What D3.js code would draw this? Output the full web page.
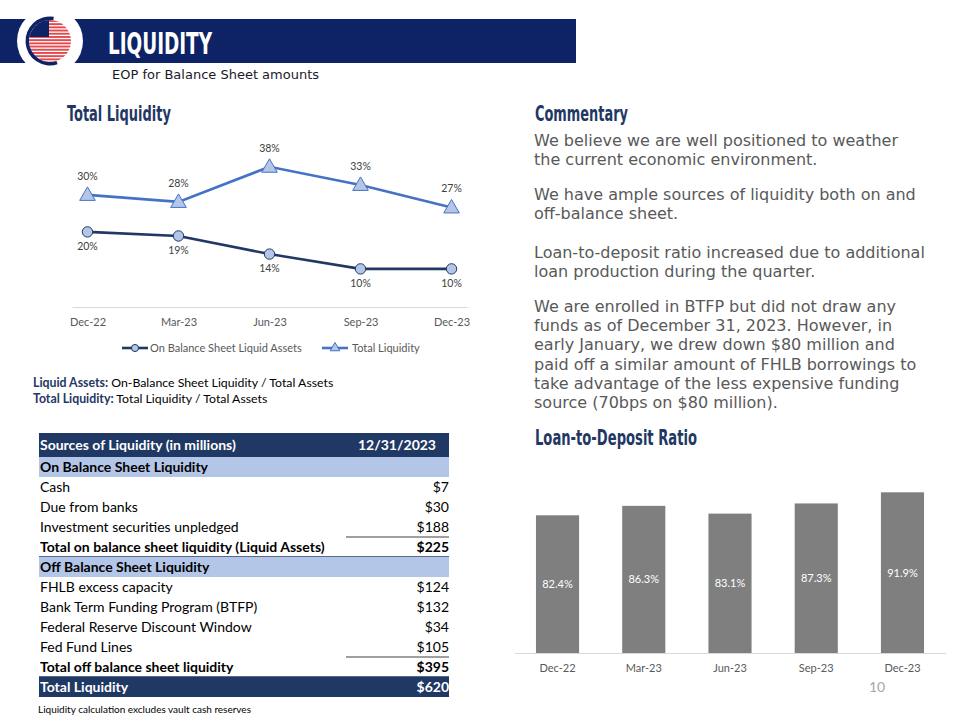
<!DOCTYPE html>
<html><head><meta charset="utf-8">
<script src="https://cdn.jsdelivr.net/npm/d3@7"></script>
<style>body{margin:0;background:#fff} svg{display:block}</style>
</head><body><svg id="c" width="960" height="720"></svg>
<script>
// ---------- data ----------
const quarters = ["Dec-22", "Mar-23", "Jun-23", "Sep-23", "Dec-23"];
const onBalance = [20.3, 19.2, 14.3, 10.3, 10.3];
const totalLiquidity = [30.3, 28.4, 37.9, 33.0, 26.9];
const seriesNames = ["On Balance Sheet Liquid Assets", "Total Liquidity"];
const loanToDeposit = [82.4, 86.3, 83.1, 87.3, 91.9];

const tableLabels = ["Sources of Liquidity (in millions)", "On Balance Sheet Liquidity", "Cash", "Due from banks",
  "Investment securities unpledged", "Total on balance sheet liquidity (Liquid Assets)", "Off Balance Sheet Liquidity",
  "FHLB excess capacity", "Bank Term Funding Program (BTFP)", "Federal Reserve Discount Window", "Fed Fund Lines",
  "Total off balance sheet liquidity", "Total Liquidity"];
const tableValues = ["12/31/2023", "", "$7", "$30", "$188", "$225", "", "$124", "$132", "$34", "$105", "$395", "$620"];
const tableKinds = ["head", "sect", "item", "item", "under", "total", "sect", "item", "item", "item", "under", "total", "grand"];

const commentary = [
  ["We believe we are well positioned to weather", "the current economic environment."],
  ["We have ample sources of liquidity both on and", "off-balance sheet."],
  ["Loan-to-deposit ratio increased due to additional", "loan production during the quarter."],
  ["We are enrolled in BTFP but did not draw any", "funds as of December 31, 2023. However, in",
   "early January, we drew down $80 million and", "paid off a similar amount of FHLB borrowings to",
   "take advantage of the less expensive funding", "source (70bps on $80 million)."]
];

// ---------- styles ----------
const NAVY = "#0d2366", TNAVY = "#1f3864", LBLUE = "#b4c6e7", BLUE = "#4472c4";
const CAL = "Lato, 'Open Sans', sans-serif";
const COND = "'DejaVu Sans Condensed', 'Liberation Sans Narrow', 'DejaVu Sans', sans-serif";
const svg = d3.select("#c");

// ---------- header ----------
svg.append("rect").attr("x", 0).attr("y", 19).attr("width", 576).attr("height", 44).attr("fill", NAVY);
const logo = svg.append("g").attr("transform", "translate(50,41)");
logo.append("circle").attr("r", 33).attr("fill", "#fff");
svg.append("defs").append("clipPath").attr("id", "globe").append("circle").attr("r", 21);
const globe = logo.append("g").attr("clip-path", "url(#globe)");
globe.append("rect").attr("x", -22).attr("y", -22).attr("width", 44).attr("height", 44).attr("fill", "#fff");
d3.range(-21, 22, 3.2).forEach(s => globe.append("rect").attr("x", -22).attr("y", s).attr("width", 44).attr("height", 1.9).attr("fill", "#e5484d"));
globe.append("rect").attr("x", -22).attr("y", -22).attr("width", 21).attr("height", 18).attr("fill", NAVY);
logo.append("path").attr("d", d3.arc()({ innerRadius: 21, outerRadius: 24.5, startAngle: Math.PI * 0.9, endAngle: Math.PI * 2.05 }))
  .attr("fill", NAVY);

svg.append("text").attr("x", 108).attr("y", 54).attr("fill", "#fff").attr("font-family", COND)
  .attr("font-weight", "bold").attr("font-size", 31).attr("textLength", 104).attr("lengthAdjust", "spacingAndGlyphs").text("LIQUIDITY");
svg.append("text").attr("x", 112).attr("y", 79).attr("fill", "#1a1a2a").attr("font-family", "'DejaVu Sans', Verdana, sans-serif")
  .attr("font-size", 13).text("EOP for Balance Sheet amounts");

function title(x, y, w, t) {
  svg.append("text").attr("x", x).attr("y", y).attr("fill", TNAVY).attr("font-family", COND).attr("font-weight", "bold")
    .attr("font-size", 22).attr("textLength", w).attr("lengthAdjust", "spacingAndGlyphs").text(t);
}
title(67, 121, 104, "Total Liquidity");
title(535, 121, 93, "Commentary");
title(535, 445, 162, "Loan-to-Deposit Ratio");

// ---------- line chart ----------
const x = d3.scalePoint().domain(quarters).range([72, 467]).padding(0.17);
const y = d3.scaleLinear().domain([0, 45]).range([307, 307 - 45 * 3.7]);
const lc = svg.append("g");
const ax = lc.append("g").attr("transform", "translate(0,307)").call(d3.axisBottom(x).tickSize(0).tickPadding(11));
ax.select(".domain").attr("stroke", "#d9d9d9").attr("stroke-width", 1);
ax.selectAll("text").attr("font-family", CAL).attr("font-size", 11).attr("fill", "#595959");

const series = [
  { name: seriesNames[0], values: onBalance, color: TNAVY, marker: "circle", labelDy: 18 },
  { name: seriesNames[1], values: totalLiquidity, color: BLUE, marker: "triangle", labelDy: -15 }
];
const line = d3.line().x((d, i) => x(quarters[i])).y(d => y(d));
series.forEach(s => {
  lc.append("path").attr("d", line(s.values)).attr("fill", "none").attr("stroke", s.color).attr("stroke-width", 2.6);
  const sym = d3.symbol().type(s.marker === "circle" ? d3.symbolCircle : d3.symbolTriangle).size(s.marker === "circle" ? 85 : 105);
  lc.selectAll(null).data(s.values).enter().append("path").attr("d", sym)
    .attr("transform", (d, i) => `translate(${x(quarters[i])},${y(d) + (s.marker === "triangle" ? 1 : 0)})`)
    .attr("fill", LBLUE).attr("stroke", s.color).attr("stroke-width", 1);
  lc.selectAll(null).data(s.values).enter().append("text")
    .attr("x", (d, i) => x(quarters[i])).attr("y", d => y(d) + s.labelDy).attr("text-anchor", "middle")
    .attr("font-family", CAL).attr("font-size", 10.5).attr("fill", "#404040").text(d => Math.round(d) + "%");
});
// legend
const leg = [{ x0: 122, tx: 150 }, { x0: 322, tx: 352 }];
series.forEach((s, i) => {
  const g = lc.append("g");
  g.append("line").attr("x1", leg[i].x0).attr("x2", leg[i].x0 + 26).attr("y1", 348).attr("y2", 348).attr("stroke", s.color).attr("stroke-width", 2.6);
  g.append("path").attr("d", d3.symbol().type(s.marker === "circle" ? d3.symbolCircle : d3.symbolTriangle).size(40))
    .attr("transform", `translate(${leg[i].x0 + 13},348)`).attr("fill", LBLUE).attr("stroke", s.color).attr("stroke-width", 1);
  g.append("text").attr("x", leg[i].tx).attr("y", 352).attr("font-family", CAL).attr("font-size", 11).attr("fill", "#595959").text(s.name);
});

// definitions
const defs = [["Liquid Assets:", " On-Balance Sheet Liquidity / Total Assets"], ["Total Liquidity:", " Total Liquidity / Total Assets"]];
defs.forEach((d, i) => {
  const t = svg.append("text").attr("x", 33).attr("y", 387 + i * 16).attr("font-family", CAL).attr("font-size", 12.3);
  t.append("tspan").attr("fill", TNAVY).attr("font-weight", "bold").text(d[0]);
  t.append("tspan").attr("fill", "#000").text(d[1]);
});

// ---------- table ----------
const tX0 = 39, tX1 = 449;
const rowH = tableKinds.map(k => k === "head" ? 24 : 20);
const rowTop = [];
rowH.reduce((acc, h, i) => { rowTop[i] = acc; return acc + h; }, 433);
const tbl = svg.append("g");
tableKinds.forEach((k, i) => {
  const top = rowTop[i], h = rowH[i];
  const bg = (k === "head" || k === "grand") ? TNAVY : (k === "sect" ? LBLUE : null);
  if (bg) tbl.append("rect").attr("x", tX0).attr("y", top).attr("width", tX1 - tX0).attr("height", h).attr("fill", bg);
  const white = k === "head" || k === "grand";
  const bold = k !== "item" && k !== "under";
  const base = top + (k === "head" ? 17 : 15);
  tbl.append("text").attr("x", tX0 + 1).attr("y", base).attr("font-family", CAL).attr("font-size", 14)
    .attr("font-weight", bold ? "bold" : "normal").attr("fill", white ? "#fff" : "#000").text(tableLabels[i]);
  tbl.append("text").attr("x", k === "head" ? 397 : tX1).attr("y", base).attr("text-anchor", k === "head" ? "middle" : "end")
    .attr("font-family", CAL).attr("font-size", 14).attr("font-weight", bold ? "bold" : "normal")
    .attr("fill", white ? "#fff" : "#000").text(tableValues[i]);
  if (k === "under") tbl.append("line").attr("x1", 346).attr("x2", tX1).attr("y1", top + h).attr("y2", top + h).attr("stroke", "#7f7f7f").attr("stroke-width", 1.3);
  if (k === "total") tbl.append("line").attr("x1", tX0).attr("x2", tX1).attr("y1", top + h).attr("y2", top + h).attr("stroke", TNAVY).attr("stroke-width", 1.5);
});
svg.append("text").attr("x", 38).attr("y", 713).attr("font-family", CAL).attr("font-size", 10).attr("fill", "#000")
  .text("Liquidity calculation excludes vault cash reserves");

// ---------- commentary ----------
const paraTop = [146, 200, 258, 312];
commentary.forEach((p, i) => {
  p.forEach((l, j) => svg.append("text").attr("x", 534).attr("y", paraTop[i] + j * 19.2)
    .attr("font-family", "'DejaVu Sans', Verdana, sans-serif").attr("font-size", 16).attr("fill", "#595959").text(l));
});

// ---------- bar chart ----------
const xb = d3.scaleBand().domain(quarters).range([514.4, 945.6]).paddingInner(0.5).paddingOuter(0.25);
const yb = d3.scaleLinear().domain([25.5, 100]).range([653, 653 - 74.5 * 2.42]);
const bc = svg.append("g");
bc.selectAll("rect").data(loanToDeposit).enter().append("rect")
  .attr("x", (d, i) => xb(quarters[i])).attr("width", xb.bandwidth())
  .attr("y", d => yb(d)).attr("height", d => yb.range()[0] - yb(d)).attr("fill", "#7f7f7f");
bc.selectAll(".bl").data(loanToDeposit).enter().append("text")
  .attr("x", (d, i) => xb(quarters[i]) + xb.bandwidth() / 2).attr("y", d => (yb(d) + yb.range()[0]) / 2 + 4)
  .attr("text-anchor", "middle").attr("font-family", CAL).attr("font-size", 11).attr("fill", "#fff").text(d => d.toFixed(1) + "%");
const bax = bc.append("g").attr("transform", "translate(0,653)").call(d3.axisBottom(xb).tickSize(0).tickPadding(11));
bax.select(".domain").attr("stroke", "#d9d9d9");
bax.selectAll("text").attr("font-family", CAL).attr("font-size", 11).attr("fill", "#595959");

svg.append("text").attr("x", 877).attr("y", 692).attr("text-anchor", "middle").attr("font-family", CAL)
  .attr("font-size", 14).attr("fill", "#a6a6a6").text("10");
</script></body></html>
